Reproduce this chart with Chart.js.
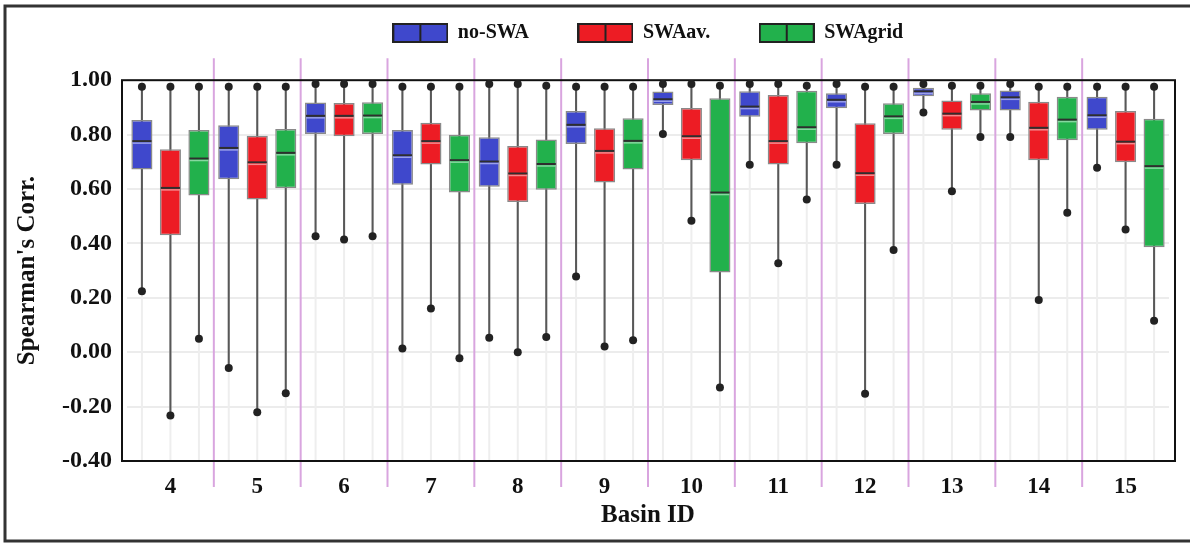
<!DOCTYPE html>
<html>
<head>
<meta charset="utf-8">
<title>Spearman's correlation by basin</title>
<script src="https://cdn.jsdelivr.net/npm/chart.js@4.4.1/dist/chart.umd.min.js"></script>
<style>
  html, body { margin: 0; padding: 0; background: #ffffff; }
  #wrap { width: 1190px; height: 544px; }
</style>
</head>
<body>
<div id="wrap"><canvas id="chart" width="1190" height="544"></canvas></div>
<script>
// Basins on the x axis
const basins = ['4', '5', '6', '7', '8', '9', '10', '11', '12', '13', '14', '15'];

// y axis ticks
const yTickValues = [-0.4, -0.2, 0.0, 0.2, 0.4, 0.6, 0.8, 1.0];
const yTickLabels = ['-0.40', '-0.20', '0.00', '0.20', '0.40', '0.60', '0.80', '1.00'];

// no-SWA: five-number summary per basin
const noSwaMin = [0.224, -0.058, 0.426, 0.014, 0.053, 0.278, 0.802, 0.689, 0.689, 0.881, 0.791, 0.678];
const noSwaQ1  = [0.672, 0.636, 0.802, 0.616, 0.608, 0.765, 0.909, 0.866, 0.897, 0.941, 0.889, 0.818];
const noSwaMed = [0.776, 0.751, 0.869, 0.724, 0.701, 0.836, 0.930, 0.903, 0.928, 0.959, 0.937, 0.871];
const noSwaQ3  = [0.854, 0.834, 0.918, 0.817, 0.790, 0.887, 0.958, 0.959, 0.952, 0.972, 0.962, 0.939];
const noSwaMax = [0.976, 0.976, 0.986, 0.976, 0.986, 0.976, 0.986, 0.986, 0.986, 0.986, 0.986, 0.976];

// SWAav.
const swaAvMin = [-0.233, -0.221, 0.414, 0.161, 0.000, 0.021, 0.483, 0.327, -0.153, 0.592, 0.192, 0.451];
const swaAvQ1  = [0.430, 0.561, 0.794, 0.690, 0.552, 0.624, 0.706, 0.690, 0.545, 0.818, 0.706, 0.698];
const swaAvMed = [0.604, 0.698, 0.869, 0.776, 0.657, 0.740, 0.794, 0.776, 0.658, 0.877, 0.825, 0.774];
const swaAvQ3  = [0.746, 0.796, 0.916, 0.844, 0.758, 0.823, 0.898, 0.946, 0.842, 0.925, 0.921, 0.887];
const swaAvMax = [0.976, 0.976, 0.986, 0.976, 0.986, 0.976, 0.986, 0.986, 0.976, 0.980, 0.976, 0.976];

// SWAgrid
const swaGridMin = [0.049, -0.151, 0.426, -0.022, 0.056, 0.044, -0.130, 0.561, 0.376, 0.791, 0.513, 0.116];
const swaGridQ1  = [0.576, 0.603, 0.802, 0.587, 0.597, 0.672, 0.293, 0.768, 0.802, 0.889, 0.779, 0.386];
const swaGridMed = [0.712, 0.733, 0.870, 0.706, 0.692, 0.777, 0.587, 0.827, 0.867, 0.920, 0.855, 0.684];
const swaGridQ3  = [0.817, 0.821, 0.919, 0.799, 0.782, 0.860, 0.934, 0.961, 0.915, 0.952, 0.939, 0.858];
const swaGridMax = [0.976, 0.976, 0.986, 0.976, 0.980, 0.976, 0.980, 0.980, 0.976, 0.980, 0.976, 0.976];

const SERIF = "'Liberation Serif', 'Times New Roman', serif";
const INK = '#111111';

const series = [
  { name: 'no-SWA',  fill: '#3F48CC', tint: '#9aa0ea', min: noSwaMin,   q1: noSwaQ1,   med: noSwaMed,   q3: noSwaQ3,   max: noSwaMax },
  { name: 'SWAav.',  fill: '#ED1C24', tint: '#f58a8e', min: swaAvMin,   q1: swaAvQ1,   med: swaAvMed,   q3: swaAvQ3,   max: swaAvMax },
  { name: 'SWAgrid', fill: '#22B14C', tint: '#86d7a0', min: swaGridMin, q1: swaGridQ1, med: swaGridMed, q3: swaGridQ3, max: swaGridMax }
];

// Legend key: a filled box split by a vertical median stroke
function legendKey(color) {
  const c = document.createElement('canvas');
  c.width = 56; c.height = 20;
  const g = c.getContext('2d');
  g.fillStyle = color;
  g.fillRect(1, 1, 54, 18);
  g.strokeStyle = '#222222';
  g.lineWidth = 2;
  g.strokeRect(1, 1, 54, 18);
  g.beginPath();
  g.moveTo(28, 1);
  g.lineTo(28, 19);
  g.stroke();
  return c;
}
const legendKeys = series.map(s => legendKey(s.fill));

const GROUP_PCT = 0.985;

// Interquartile boxes
const boxSets = series.map((s, k) => ({
  label: s.name,
  data: s.q1.map((v, i) => [v, s.q3[i]]),
  backgroundColor: s.fill,
  borderColor: '#8a8a8a',
  borderWidth: 1.5,
  borderSkipped: false,
  stack: 'g' + k,
  categoryPercentage: GROUP_PCT,
  barPercentage: 0.74,
  order: 0
}));

// Whiskers from minimum to maximum, drawn behind the boxes
const whiskerSets = series.map((s, k) => ({
  label: s.name + ' range',
  data: s.min.map((v, i) => [v, s.max[i]]),
  backgroundColor: '#585858',
  borderWidth: 0,
  stack: 'g' + k,
  categoryPercentage: GROUP_PCT,
  barPercentage: 0.072,
  order: 1
}));

function strokeLine(ctx, x1, y1, x2, y2) {
  ctx.beginPath();
  ctx.moveTo(x1, y1);
  ctx.lineTo(x2, y2);
  ctx.stroke();
}

const boxPlotMarks = {
  id: 'boxPlotMarks',
  beforeDraw(chart) {
    const { ctx } = chart;
    ctx.save();
    ctx.fillStyle = '#ffffff';
    ctx.fillRect(0, 0, chart.width, chart.height);
    ctx.restore();
  },
  beforeDatasetsDraw(chart) {
    const { ctx, chartArea: a, scales: { x } } = chart;
    ctx.save();
    // faint guide under each box column
    ctx.strokeStyle = '#eeeeee';
    ctx.lineWidth = 2;
    for (let k = 0; k < series.length; k++) {
      chart.getDatasetMeta(series.length + k).data.forEach(el => {
        strokeLine(ctx, el.x, a.top, el.x, a.bottom);
      });
    }
    // separators between basins
    ctx.strokeStyle = '#d9a5df';
    ctx.lineWidth = 2;
    for (let i = 1; i < basins.length; i++) {
      const px = (x.getPixelForValue(i - 1) + x.getPixelForValue(i)) / 2;
      strokeLine(ctx, px, a.top - 22, px, a.bottom + 26);
    }
    // plot frame
    ctx.strokeStyle = '#111111';
    ctx.lineWidth = 2;
    ctx.strokeRect(a.left - 5, a.top, a.width + 11, a.height);
    ctx.restore();
  },
  afterDatasetsDraw(chart) {
    const { ctx, scales: { y } } = chart;
    ctx.save();
    series.forEach((s, k) => {
      // medians
      chart.getDatasetMeta(k).data.forEach((el, i) => {
        const py = y.getPixelForValue(s.med[i]);
        const half = el.width / 2 - 1;
        ctx.strokeStyle = '#2e2e2e';
        ctx.lineWidth = 2;
        strokeLine(ctx, el.x - half, py, el.x + half, py);
        ctx.strokeStyle = s.tint;
        ctx.lineWidth = 1.5;
        strokeLine(ctx, el.x - half, py + 2, el.x + half, py + 2);
      });
      // end dots on the whiskers
      ctx.fillStyle = '#222222';
      chart.getDatasetMeta(series.length + k).data.forEach((el, i) => {
        [s.min[i], s.max[i]].forEach(v => {
          ctx.beginPath();
          ctx.arc(el.x, y.getPixelForValue(v), 4, 0, Math.PI * 2);
          ctx.fill();
        });
      });
    });
    ctx.restore();
  },
  afterDraw(chart) {
    const { ctx } = chart;
    ctx.save();
    ctx.strokeStyle = '#333333';
    ctx.lineWidth = 3;
    ctx.strokeRect(5, 6, chart.width + 20, 535);
    ctx.restore();
  }
};

new Chart(document.getElementById('chart'), {
  type: 'bar',
  data: {
    labels: basins,
    datasets: [...boxSets, ...whiskerSets]
  },
  plugins: [boxPlotMarks],
  options: {
    responsive: false,
    animation: false,
    devicePixelRatio: 1,
    layout: { padding: { top: -26, left: 0, right: 21, bottom: 0 } },
    plugins: {
      legend: {
        position: 'top',
        fullSize: false,
        weight: 3000,
        align: 'center',
        onClick: null,
        labels: {
          usePointStyle: true,
          pointStyleWidth: 55,
          boxHeight: 19,
          padding: 49,
          color: INK,
          font: { family: SERIF, size: 20, weight: 'bold' },
          generateLabels: () => series.map((s, k) => ({
            text: s.name,
            pointStyle: legendKeys[k],
            fillStyle: s.fill,
            strokeStyle: '#222222',
            lineWidth: 0,
            hidden: false,
            datasetIndex: k,
            fontColor: INK
          }))
        }
      },
      title: {
        display: true,
        text: '',
        font: { size: 1 },
        padding: { top: 26, bottom: 0 }
      },
      tooltip: { enabled: false }
    },
    scales: {
      x: {
        grid: { display: false, drawTicks: false },
        border: { display: false },
        ticks: {
          color: INK,
          padding: 12,
          font: { family: SERIF, size: 23, weight: 'bold' }
        },
        title: {
          display: true,
          text: 'Basin ID',
          color: INK,
          font: { family: SERIF, size: 25, weight: 'bold' },
          padding: { top: 0, bottom: 13 }
        },
        afterFit: s => { s.height = 83; }
      },
      y: {
        min: -0.4,
        max: 1.0,
        stacked: false,
        afterBuildTicks: s => { s.ticks = yTickValues.map(v => ({ value: v })); },
        grid: { color: '#ececec', lineWidth: 2, drawTicks: false },
        border: { display: false },
        ticks: {
          color: INK,
          padding: 15,
          font: { family: SERIF, size: 24, weight: 'bold' },
          callback: (v, i) => yTickLabels[i]
        },
        title: {
          display: true,
          text: "Spearman's Corr.",
          color: INK,
          font: { family: SERIF, size: 25, weight: 'bold' },
          padding: { top: 13, bottom: 0 }
        },
        afterFit: s => { s.width = 127; }
      }
    }
  }
});
</script>
</body>
</html>
